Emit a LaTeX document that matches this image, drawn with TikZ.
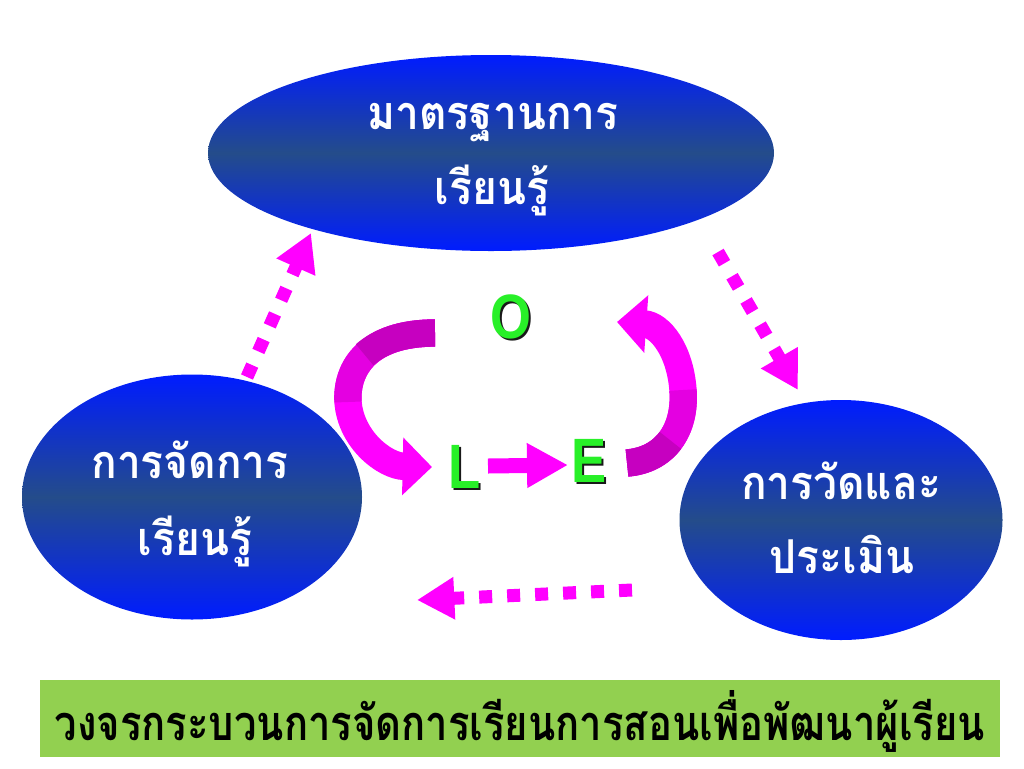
\documentclass[tikz,border=0pt]{standalone}
\usepackage{fontspec}
\newfontfamily\thaifont[Script=Thai]{Loma}
\newfontfamily\latinbold{Liberation Sans}
\usetikzlibrary{arrows.meta,shapes.geometric}
\definecolor{bbright}{RGB}{0,28,255}
\definecolor{bmid}{RGB}{36,76,138}
\definecolor{mag}{RGB}{255,0,255}
\definecolor{magmid}{RGB}{228,0,225}
\definecolor{magdark}{RGB}{198,0,192}
\definecolor{lgreen}{RGB}{40,240,40}
\definecolor{shadowc}{RGB}{25,25,25}
\definecolor{barc}{RGB}{146,208,80}
\newcommand{\thaiscaled}[1]{\scalebox{0.91}[1]{#1}}
\newcommand{\shadowletter}[1]{\scalebox{0.84}[1]{\makebox[0pt][l]{\hspace{1.8pt}\raisebox{-1.8pt}{\textcolor{shadowc}{#1}}}#1}}
\tikzset{
  ell/.style={ellipse, draw=none, inner sep=0pt, top color=bbright, bottom color=bbright, middle color=bmid},
  lbl/.style={anchor=base, inner sep=0pt, text=white, font=\thaifont\bfseries\fontsize{35}{40}\selectfont},
  letter/.style={anchor=base, inner sep=0pt, text=lgreen, font=\latinbold\bfseries\fontsize{47}{52}\selectfont},
  dotarrow/.style={draw=mag, line width=9.75pt, dash pattern=on 9.75pt off 11.25pt, -{Triangle[width=30pt,length=28pt]}},
  bigarrow/.style={draw=mag, line width=20.5pt, -{Triangle[width=42pt,length=22pt]}},
  bandpart/.style={line width=20.5pt},
  smallarrow/.style={draw=mag, line width=11.25pt, -{Triangle[width=31.5pt,length=30.75pt]}},
}
\begin{document}
\begin{tikzpicture}[x=0.75pt,y=-0.75pt]
\useasboundingbox (0,0) rectangle (1024,768);

% ellipses
\node[ell, minimum width=424.5pt, minimum height=147pt] (std) at (491,153) {};
\node[ell, minimum width=255pt, minimum height=183.75pt] (mgmt) at (192,497) {};
\node[ell, minimum width=242.25pt, minimum height=180pt] (eval) at (841,520) {};

\node[lbl] (std1) at (493,129) {\thaiscaled{มาตรฐานการ}};
\node[lbl] (std2) at (492,204) {\thaiscaled{เรียนรู้}};
\node[lbl] (mgmt1) at (190,478) {\thaiscaled{การจัดการ}};
\node[lbl] (mgmt2) at (195,555) {\thaiscaled{เรียนรู้}};
\node[lbl] (eval1) at (841,499) {\thaiscaled{การวัดและ}};
\node[lbl] (eval2) at (842,573) {\thaiscaled{ประเมิน}};

% dotted arrows between ellipses
\coordinate (a1s) at (247,377);
\coordinate (a1e) at (311,233);
\coordinate (a2s) at (718,252);
\coordinate (a2e) at (798,390);
\coordinate (a3s) at (632,590);
\coordinate (a3e) at (417,600);
\draw[dotarrow] (a1s) -- (a1e);
\draw[dotarrow] (a2s) -- (a2e);
\draw[dotarrow] (a3s) -- (a3e);

% letters
\node[letter] (O) at (511,338) {\shadowletter{O}};
\node[letter] (L) at (465,488) {\shadowletter{L}};
\node[letter] (E) at (589,482) {\shadowletter{E}};

% curved arrows O -> L and E -> O
\coordinate (c1s) at (435,333);
\coordinate (c1e) at (432,467);
\draw[bigarrow] (c1s) .. controls (368,333) and (346,368) .. (348,402)
                      .. controls (351,440) and (385,466) .. (c1e);
\draw[bandpart, magmid] (c1s) .. controls (368,333) and (346,368) .. (348,402);
\draw[bandpart, magdark] (c1s) .. controls (401.5,333) and (379.5,341.75) .. (364.6,354.75);

\coordinate (c2s) at (627,463);
\coordinate (c2e) at (617,322);
\draw[bigarrow] (c2s) .. controls (665,460) and (686,430) .. (683,390)
                      .. controls (680,350) and (660,325) .. (c2e);
\draw[bandpart, magmid] (c2s) .. controls (665,460) and (686,430) .. (683,390);
\draw[bandpart, magdark] (c2s) .. controls (646,461.5) and (660.75,453.25) .. (670.4,440.4);

% L -> E
\coordinate (le1) at (488,466);
\coordinate (le2) at (568,465);
\draw[smallarrow] (le1) -- (le2);

% bottom bar
\node[fill=barc, minimum width=720pt, minimum height=57.75pt, inner sep=0pt] (bar) at (520,718.5) {};
\node[anchor=base, inner sep=0pt] (title) at (520,740) {\resizebox{697.5pt}{37.5pt}{\thaifont\bfseries วงจรกระบวนการจัดการเรียนการสอนเพื่อพัฒนาผู้เรียน}};
\end{tikzpicture}
\end{document}
